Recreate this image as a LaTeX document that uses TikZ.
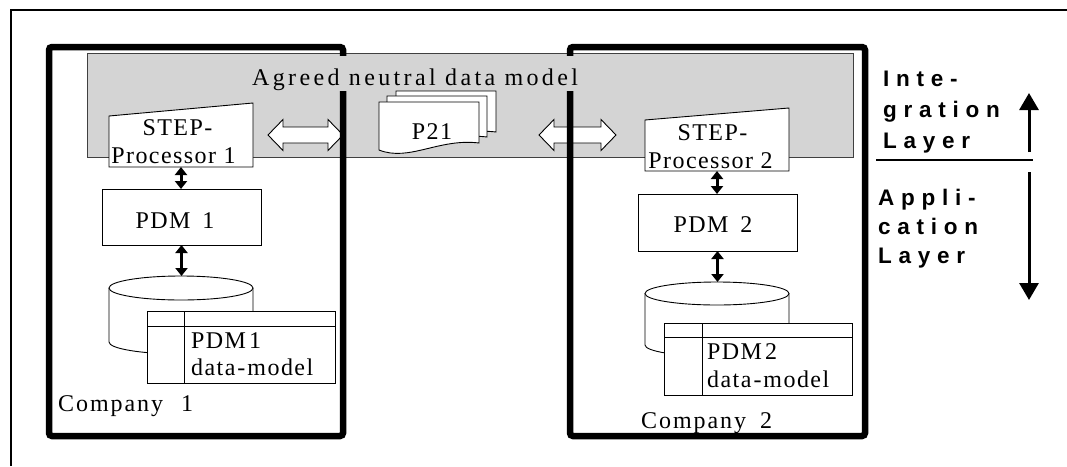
\documentclass[tikz,border=0pt]{standalone}
\usepackage{fontspec}
\setmainfont{Liberation Serif}
\newfontfamily\wideserif[LetterSpace=14]{Liberation Serif}
\newfontfamily\midserif[LetterSpace=8]{Liberation Serif}
\newfontfamily\boxserif[LetterSpace=6]{Liberation Serif}
\newfontfamily\layersans[LetterSpace=30]{Liberation Sans}
\usetikzlibrary{arrows.meta}

\definecolor{bandgrey}{RGB}{212,212,212}
\definecolor{bandedge}{RGB}{64,64,64}

\tikzset{
  frameline/.style={line width=2.2pt},
  company/.style={line width=6.5pt, rounded corners=3pt},
  band/.style={fill=bandgrey, draw=bandedge, line width=1pt},
  boxline/.style={draw=black, line width=0.9pt, fill=white},
  area/.style={inner sep=0pt, outer sep=0pt, draw=none},
  boxtext/.style={font=\boxserif\fontsize{24}{28}\selectfont, inner sep=0pt, anchor=base},
  boxtextl/.style={font=\boxserif\fontsize{24}{28}\selectfont, inner sep=0pt, anchor=base west},
  comptext/.style={font=\midserif\fontsize{24}{28}\selectfont, inner sep=0pt, anchor=base west},
  layertext/.style={font=\layersans\bfseries\fontsize{22.5}{26}\selectfont, inner sep=0pt, anchor=base west},
  link/.style={line width=3pt, {Triangle[width=12pt,length=8pt]}-{Triangle[width=12pt,length=8pt]}},
  layerarrow/.style={line width=3pt, -{Triangle[width=19pt,length=17pt]}},
  openarrow/.style={draw=black, line width=0.9pt, fill=white},
}

% hollow two-headed exchange arrow: #1 left tip x, #2 right tip x, #3 axis y
\newcommand\exchangearrow[3]{%
  \filldraw[openarrow] (#1,#3) -- ++(15,-15.5) -- ++(0,7.5) -- (#2-15,#3-8)
    -- ++(0,-7.5) -- (#2,#3) -- ++(-15,15.5) -- ++(0,-7.5) -- (#1+15,#3+8)
    -- ++(0,7.5) -- cycle;}

% exchange file sheet with wavy lower edge, top-left corner at (#1,#2)
\newcommand\filesheet[2]{%
  \filldraw[boxline, shift={(#1,#2)}] (0,0) -- (100,0) -- (100,41)
    .. controls (60,36) and (30,60) .. (0,48) -- cycle;}

\begin{document}
\begin{tikzpicture}[x=1pt,y=-1pt]
\useasboundingbox (0,0) rectangle (1067,466);

% outer frame
\draw[frameline] (11,466) -- (11,10) -- (1067,10);

% integration band
\draw[band] (87,53) rectangle (853,157);

% exchange arrows
\exchangearrow{268}{343}{135}
\exchangearrow{539}{616}{135}

% company frames
\draw[company] (49,47) rectangle (343,436);
\draw[company] (570,47) rectangle (865,436);

% band title
\node[font=\wideserif\fontsize{24}{28}\selectfont, fill=bandgrey, inner xsep=2pt, inner ysep=0pt,
      text height=29pt, text depth=6pt, anchor=base west] (title) at (250,85)
  {Agreed neutral data model};

% P21 exchange files
\filesheet{396}{91}
\filesheet{387}{96}
\filesheet{379}{102}
\node[boxtext] (p21) at (432,139) {P21};

% ---------------- company 1 ----------------
\node[area, minimum width=144pt, minimum height=64pt] (step1) at (181,135) {};
\filldraw[boxline] (step1.south west) -- (step1.south east) -- (step1.north east)
  -- ([yshift=-13pt]step1.north west) -- cycle;
\node[boxtext] (step1a) at (177.5,135) {STEP-};
\node[boxtext] (step1b) at (173.5,163) {Processor 1};

\node[area, draw=black, line width=0.9pt, minimum width=159pt, minimum height=56pt] (pdm1) at (181.5,217) {};
\node[boxtext] (pdm1t) at (175,228) {PDM\hspace{12pt}1};

% database 1
\filldraw[boxline] (109,288) -- (109,342) arc[start angle=180, end angle=0, x radius=72, y radius=12] -- (253,288);
\filldraw[boxline] (181,288) ellipse[x radius=72, y radius=12];
\coordinate (db1) at (181,276);

% data-model table 1
\node[area, draw=black, fill=white, line width=0.9pt, minimum width=188pt, minimum height=72pt] (tab1) at (241,347) {};
\draw[line width=0.9pt] (147,326) -- (335,326) (184,311) -- (184,383);
\node[boxtextl] (tab1a) at (191,348) {PDM\hspace{3pt}1};
\node[boxtextl] (tab1b) at (191,375) {data\hspace{2pt}-\hspace{2pt}model};

\draw[link] (step1.south) -- (step1.south |- pdm1.north);
\draw[link] (pdm1.south) -- (pdm1.south |- db1);

\node[comptext] (comp1) at (58,411) {Company\hspace{18pt}1};

% ---------------- company 2 ----------------
\node[area, minimum width=144pt, minimum height=63pt] (step2) at (717,139.5) {};
\filldraw[boxline] (step2.south west) -- (step2.south east) -- (step2.north east)
  -- ([yshift=-12pt]step2.north west) -- cycle;
\node[boxtext] (step2a) at (712.5,140) {STEP-};
\node[boxtext] (step2b) at (710.5,168) {Processor 2};

\node[area, draw=black, line width=0.9pt, minimum width=159pt, minimum height=57pt] (pdm2) at (717.5,222.5) {};
\node[boxtext] (pdm2t) at (713,232) {PDM\hspace{12pt}2};

% database 2
\filldraw[boxline] (645,293.5) -- (645,345) arc[start angle=180, end angle=0, x radius=72, y radius=11.5] -- (789,293.5);
\filldraw[boxline] (717,293.5) ellipse[x radius=72, y radius=11.5];
\coordinate (db2) at (717,282);

% data-model table 2
\node[area, draw=black, fill=white, line width=0.9pt, minimum width=188pt, minimum height=72pt] (tab2) at (758,359) {};
\draw[line width=0.9pt] (664,337) -- (852,337) (702,323) -- (702,395);
\node[boxtextl] (tab2a) at (707,359) {PDM\hspace{3pt}2};
\node[boxtextl] (tab2b) at (707,387) {data\hspace{2pt}-\hspace{2pt}model};

\draw[link] (step2.south) -- (step2.south |- pdm2.north);
\draw[link] (pdm2.south) -- (pdm2.south |- db2);

\node[comptext] (comp2) at (641,428) {Company\hspace{14pt}2};

% ---------------- layer legend ----------------
\node[layertext] (int1) at (883,86) {Inte-};
\node[layertext] (int2) at (883,117) {gration};
\node[layertext] (int3) at (883,148) {Layer};
\node[layertext] (app1) at (878,205) {Appli-};
\node[layertext] (app2) at (878,234) {cation};
\node[layertext] (app3) at (878,263) {Layer};

\coordinate (divL) at (876,160);
\coordinate (divR) at (1033,160);
\draw[line width=1.5pt] (divL) -- (divR);

\coordinate (intFoot) at (1029,152);
\coordinate (intTip) at (1029,93);
\coordinate (appFoot) at (1029,172);
\coordinate (appTip) at (1029,300);
\draw[layerarrow] (intFoot) -- (intTip);
\draw[layerarrow] (appFoot) -- (appTip);
\end{tikzpicture}
\end{document}
